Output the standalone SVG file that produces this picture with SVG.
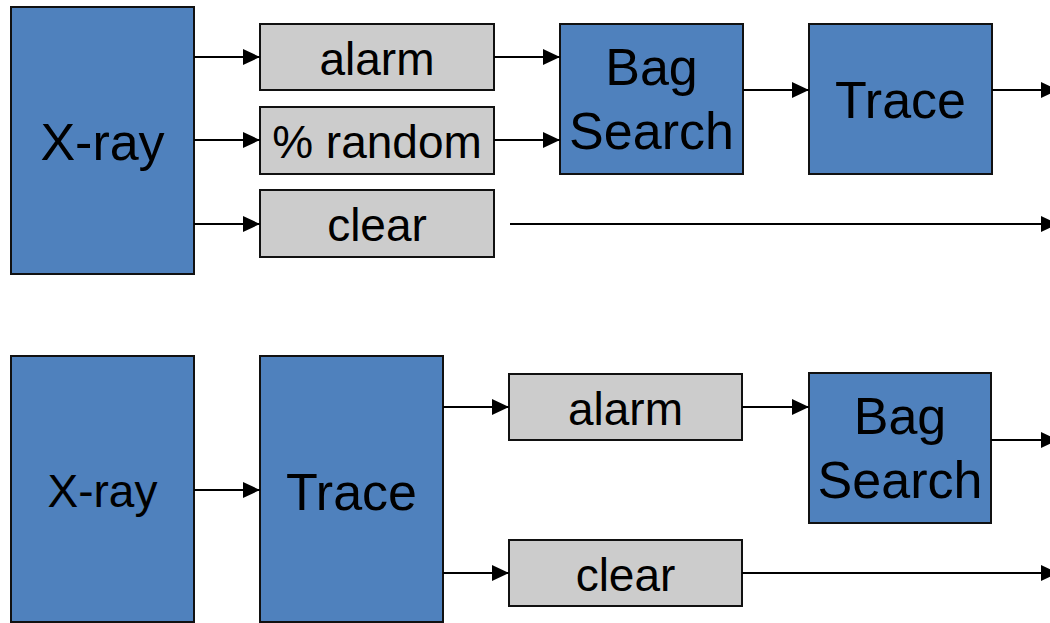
<svg xmlns="http://www.w3.org/2000/svg" width="1050" height="623" viewBox="0 0 1050 623">
<style>
.blue{fill:#4F81BD;stroke:#111;stroke-width:2}
.gray{fill:#CCCCCC;stroke:#111;stroke-width:2}
text{font-family:"Liberation Sans",Arial,sans-serif;fill:#000;text-anchor:middle}
.big{font-size:52px}
.mid{font-size:46px}
.conn line{stroke:#000;stroke-width:2;marker-end:url(#arr)}
</style>
<defs>
<marker id="arr" markerUnits="userSpaceOnUse" markerWidth="18" markerHeight="16" refX="17" refY="8" orient="auto">
<path d="M0,0 L17,8 L0,16 Z" fill="#000"/>
</marker>
</defs>
<g id="xray1"><rect class="blue" x="11" y="7" width="183" height="267"/><text class="big" x="102.5" y="160">X-ray</text></g>
<g id="alarm1"><rect class="gray" x="260" y="24" width="234" height="66"/><text class="mid" x="377" y="75">alarm</text></g>
<g id="random1"><rect class="gray" x="260" y="107" width="234" height="67"/><text class="mid" x="377" y="158">% random</text></g>
<g id="clear1"><rect class="gray" x="260" y="190" width="234" height="67"/><text class="mid" x="377" y="241">clear</text></g>
<g id="bag1"><rect class="blue" x="560" y="24" width="183" height="150"/><text class="big" x="651.5" y="85">Bag</text><text class="big" x="651.5" y="149">Search</text></g>
<g id="trace1"><rect class="blue" x="809" y="24" width="183" height="150"/><text class="big" x="900.5" y="118">Trace</text></g>
<g id="xray2"><rect class="blue" x="11" y="356" width="183" height="266"/><text class="mid" x="102.5" y="507">X-ray</text></g>
<g id="trace2"><rect class="blue" x="260" y="356" width="183" height="266"/><text class="big" x="351.5" y="510">Trace</text></g>
<g id="alarm2"><rect class="gray" x="509" y="374" width="233" height="66"/><text class="mid" x="625.5" y="425">alarm</text></g>
<g id="clear2"><rect class="gray" x="509" y="540" width="233" height="66"/><text class="mid" x="625.5" y="591">clear</text></g>
<g id="bag2"><rect class="blue" x="809" y="373" width="182" height="150"/><text class="big" x="900" y="434">Bag</text><text class="big" x="900" y="498">Search</text></g>
<g id="connectors" class="conn">
<line x1="194" y1="57" x2="260" y2="57"/>
<line x1="194" y1="140" x2="260" y2="140"/>
<line x1="194" y1="224" x2="260" y2="224"/>
<line x1="494" y1="57" x2="560" y2="57"/>
<line x1="494" y1="140" x2="560" y2="140"/>
<line x1="743" y1="90" x2="809" y2="90"/>
<line x1="992" y1="90" x2="1058" y2="90"/>
<line x1="510" y1="224" x2="1058" y2="224"/>
<line x1="194" y1="490" x2="260" y2="490"/>
<line x1="443" y1="407" x2="509" y2="407"/>
<line x1="443" y1="573" x2="509" y2="573"/>
<line x1="742" y1="407" x2="809" y2="407"/>
<line x1="991" y1="440" x2="1058" y2="440"/>
<line x1="742" y1="573" x2="1058" y2="573"/>
</g>
</svg>
